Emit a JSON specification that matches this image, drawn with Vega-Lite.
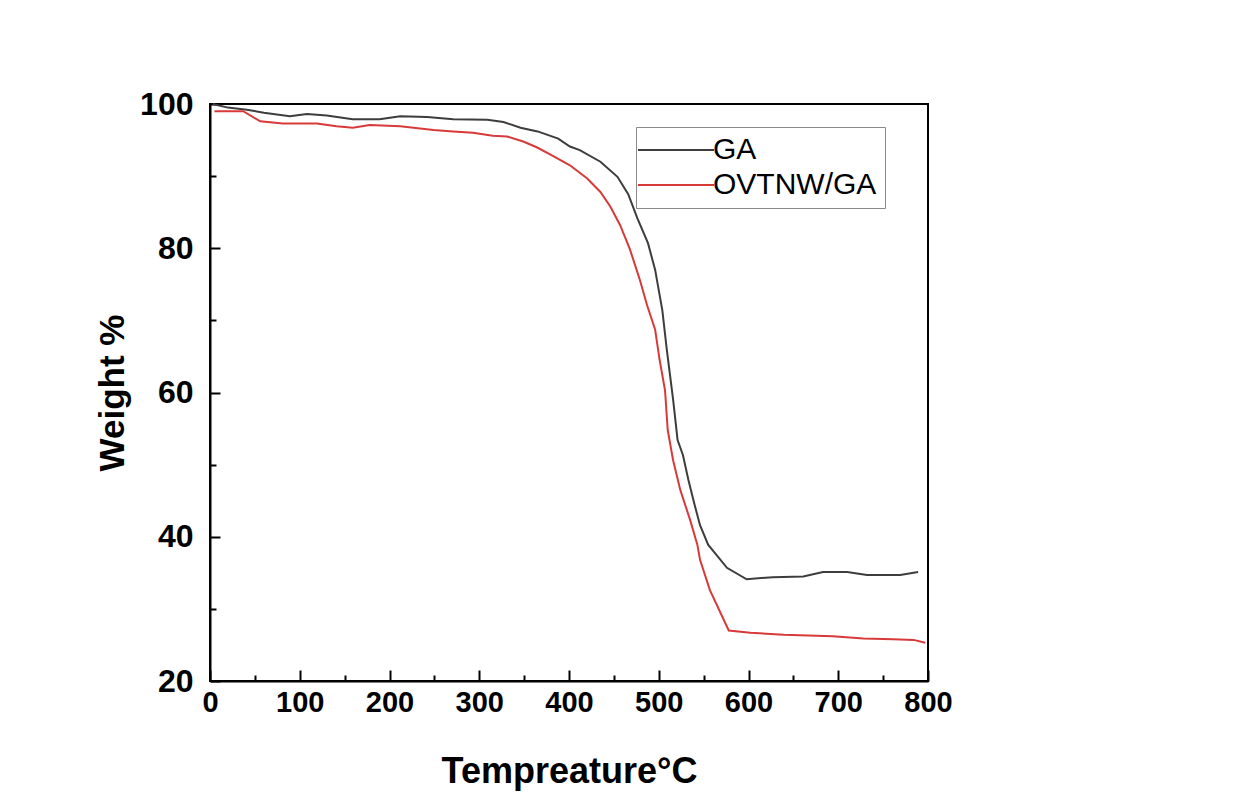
{
  "$schema": "https://vega.github.io/schema/vega-lite/v6.json",
  "width": 718,
  "height": 577,
  "autosize": {"type": "none"},
  "padding": {"left": 210, "top": 104, "right": 315, "bottom": 131},
  "background": "white",
  "config": {
    "view": {"stroke": "black", "strokeWidth": 2},
    "font": "Liberation Sans, Arial, sans-serif"
  },
  "data": {
    "values": [
      {"s": "GA", "T": 3, "W": 100.0},
      {"s": "GA", "T": 20, "W": 99.5},
      {"s": "GA", "T": 41, "W": 99.2},
      {"s": "GA", "T": 60, "W": 98.8},
      {"s": "GA", "T": 89, "W": 98.3},
      {"s": "GA", "T": 108, "W": 98.6},
      {"s": "GA", "T": 130, "W": 98.4},
      {"s": "GA", "T": 159, "W": 97.9},
      {"s": "GA", "T": 189, "W": 97.9},
      {"s": "GA", "T": 212, "W": 98.3},
      {"s": "GA", "T": 242, "W": 98.2},
      {"s": "GA", "T": 271, "W": 97.9},
      {"s": "GA", "T": 309, "W": 97.8},
      {"s": "GA", "T": 327, "W": 97.5},
      {"s": "GA", "T": 346, "W": 96.7},
      {"s": "GA", "T": 365, "W": 96.2},
      {"s": "GA", "T": 388, "W": 95.2},
      {"s": "GA", "T": 401, "W": 94.1},
      {"s": "GA", "T": 412, "W": 93.6},
      {"s": "GA", "T": 435, "W": 92.0},
      {"s": "GA", "T": 454, "W": 89.9},
      {"s": "GA", "T": 466, "W": 87.5},
      {"s": "GA", "T": 476, "W": 84.2},
      {"s": "GA", "T": 488, "W": 80.7},
      {"s": "GA", "T": 496, "W": 77.0},
      {"s": "GA", "T": 504, "W": 71.4},
      {"s": "GA", "T": 509, "W": 65.9},
      {"s": "GA", "T": 516, "W": 59.0},
      {"s": "GA", "T": 521, "W": 53.4},
      {"s": "GA", "T": 527, "W": 51.3},
      {"s": "GA", "T": 533, "W": 47.9},
      {"s": "GA", "T": 540, "W": 44.4},
      {"s": "GA", "T": 546, "W": 41.6},
      {"s": "GA", "T": 555, "W": 38.9},
      {"s": "GA", "T": 576, "W": 35.7},
      {"s": "GA", "T": 598, "W": 34.1},
      {"s": "GA", "T": 627, "W": 34.4},
      {"s": "GA", "T": 661, "W": 34.5},
      {"s": "GA", "T": 683, "W": 35.1},
      {"s": "GA", "T": 710, "W": 35.1},
      {"s": "GA", "T": 732, "W": 34.7},
      {"s": "GA", "T": 769, "W": 34.7},
      {"s": "GA", "T": 789, "W": 35.1},
      {"s": "OVTNW/GA", "T": 5, "W": 99.0},
      {"s": "OVTNW/GA", "T": 37, "W": 99.0},
      {"s": "OVTNW/GA", "T": 56, "W": 97.6},
      {"s": "OVTNW/GA", "T": 81, "W": 97.3},
      {"s": "OVTNW/GA", "T": 119, "W": 97.3},
      {"s": "OVTNW/GA", "T": 141, "W": 96.9},
      {"s": "OVTNW/GA", "T": 159, "W": 96.7},
      {"s": "OVTNW/GA", "T": 178, "W": 97.1},
      {"s": "OVTNW/GA", "T": 212, "W": 96.9},
      {"s": "OVTNW/GA", "T": 249, "W": 96.4},
      {"s": "OVTNW/GA", "T": 271, "W": 96.2},
      {"s": "OVTNW/GA", "T": 293, "W": 96.0},
      {"s": "OVTNW/GA", "T": 315, "W": 95.6},
      {"s": "OVTNW/GA", "T": 331, "W": 95.5},
      {"s": "OVTNW/GA", "T": 349, "W": 94.8},
      {"s": "OVTNW/GA", "T": 364, "W": 94.0},
      {"s": "OVTNW/GA", "T": 382, "W": 92.8},
      {"s": "OVTNW/GA", "T": 401, "W": 91.5},
      {"s": "OVTNW/GA", "T": 420, "W": 89.7},
      {"s": "OVTNW/GA", "T": 435, "W": 87.8},
      {"s": "OVTNW/GA", "T": 446, "W": 85.8},
      {"s": "OVTNW/GA", "T": 457, "W": 83.2},
      {"s": "OVTNW/GA", "T": 468, "W": 79.8},
      {"s": "OVTNW/GA", "T": 479, "W": 75.6},
      {"s": "OVTNW/GA", "T": 487, "W": 72.1},
      {"s": "OVTNW/GA", "T": 496, "W": 68.7},
      {"s": "OVTNW/GA", "T": 501, "W": 64.5},
      {"s": "OVTNW/GA", "T": 507, "W": 60.3},
      {"s": "OVTNW/GA", "T": 510, "W": 54.8},
      {"s": "OVTNW/GA", "T": 516, "W": 50.6},
      {"s": "OVTNW/GA", "T": 524, "W": 46.5},
      {"s": "OVTNW/GA", "T": 535, "W": 42.3},
      {"s": "OVTNW/GA", "T": 543, "W": 38.9},
      {"s": "OVTNW/GA", "T": 546, "W": 36.8},
      {"s": "OVTNW/GA", "T": 557, "W": 32.6},
      {"s": "OVTNW/GA", "T": 578, "W": 27.0},
      {"s": "OVTNW/GA", "T": 602, "W": 26.7},
      {"s": "OVTNW/GA", "T": 639, "W": 26.4},
      {"s": "OVTNW/GA", "T": 694, "W": 26.2},
      {"s": "OVTNW/GA", "T": 728, "W": 25.9},
      {"s": "OVTNW/GA", "T": 761, "W": 25.8},
      {"s": "OVTNW/GA", "T": 784, "W": 25.7},
      {"s": "OVTNW/GA", "T": 797, "W": 25.3}
    ]
  },
  "layer": [
    {
      "mark": {"type": "line", "strokeWidth": 2},
      "encoding": {
        "x": {
          "field": "T", "type": "quantitative",
          "scale": {"domain": [0, 800], "nice": false},
          "axis": {
            "orient": "bottom",
            "values": [0, 100, 200, 300, 400, 500, 600, 700, 800],
            "tickSize": -11, "tickWidth": 2, "tickColor": "black",
            "domainColor": "black", "domainWidth": 2,
            "labelFontSize": 29, "labelFontWeight": "bold", "labelColor": "black",
            "labelPadding": 18, "labelFlush": false, "labelOverlap": false,
            "title": "Tempreature°C", "titleFontSize": 36, "titleFontWeight": "bold",
            "titleColor": "black", "titlePadding": 37, "grid": false
          }
        },
        "y": {
          "field": "W", "type": "quantitative",
          "scale": {"domain": [20, 100], "nice": false, "zero": false},
          "axis": {
            "orient": "left",
            "values": [20, 40, 60, 80, 100],
            "tickSize": -10, "tickWidth": 2, "tickColor": "black",
            "domainColor": "black", "domainWidth": 2,
            "labelFontSize": 32, "labelFontWeight": "bold", "labelColor": "black",
            "labelPadding": 27, "labelFlush": false, "labelOverlap": false,
            "title": "Weight %", "titleFontSize": 35, "titleFontWeight": "bold",
            "titleColor": "black", "titlePadding": 9, "grid": false
          }
        },
        "color": {
          "field": "s", "type": "nominal",
          "scale": {"domain": ["GA", "OVTNW/GA"], "range": ["#3d3d3d", "#d83a3a"]},
          "legend": {
            "title": null,
            "orient": "none", "legendX": 426, "legendY": 23,
            "strokeColor": "#8a8a8a", "fillColor": "white",
            "padding": 8,
            "symbolType": "M-2.1,0H5.5", "symbolSize": 400, "symbolStrokeWidth": 2,
            "labelFontSize": 30, "labelColor": "black", "labelOffset": 39,
            "labelLimit": 400,
            "rowPadding": 5
          }
        }
      }
    },
    {
      "mark": {"type": "line", "opacity": 0},
      "encoding": {
        "x": {
          "field": "T", "type": "quantitative",
          "axis": {
            "orient": "bottom",
            "values": [50, 150, 250, 350, 450, 550, 650, 750],
            "tickSize": -6, "tickWidth": 2, "tickColor": "black",
            "domain": false, "labels": false, "title": null, "grid": false
          }
        },
        "y": {
          "field": "W", "type": "quantitative",
          "axis": {
            "orient": "left",
            "values": [30, 50, 70, 90],
            "tickSize": -6, "tickWidth": 2, "tickColor": "black",
            "domain": false, "labels": false, "title": null, "grid": false
          }
        },
        "detail": {"field": "s"}
      }
    }
  ],
  "resolve": {"axis": {"x": "independent", "y": "independent"}}
}
